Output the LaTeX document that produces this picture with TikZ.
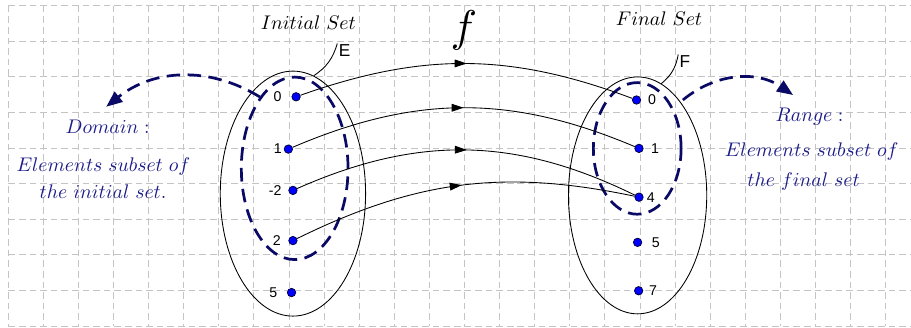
\documentclass[tikz,border=0pt]{standalone}
\usepackage{fontspec}
\newfontfamily\labfont{Liberation Sans}
\DeclareFontShape{OML}{cmm}{m}{it}{<->cmmi10}{}
\DeclareFontShape{OT1}{cmr}{m}{n}{<->cmr10}{}
\DeclareFontShape{OMS}{cmsy}{m}{n}{<->cmsy10}{}
\usetikzlibrary{arrows.meta,positioning,shapes.geometric,decorations.markings}
\definecolor{gridgray}{HTML}{C4C4C4}
\definecolor{deepnavy}{HTML}{0A0A66}
\definecolor{inknavy}{HTML}{1C1C8A}
\definecolor{ptblue}{HTML}{0000FF}
\definecolor{ptedge}{HTML}{00003C}
\tikzset{
  gridline/.style={draw=gridgray, line width=0.8pt, dash pattern=on 5.4pt off 3.2pt},
  setbox/.style={draw=black, line width=0.7pt, ellipse, inner sep=0pt},
  subset/.style={draw=deepnavy, line width=2.2pt, dash pattern=on 11pt off 6pt, ellipse, inner sep=0pt},
  dot/.style={circle, fill=ptblue, draw=ptedge, line width=0.6pt, inner sep=0pt, minimum size=2.4mm},
  num/.style={font=\labfont\fontsize{11.5}{13}\selectfont, inner sep=0pt},
  letter/.style={font=\labfont\fontsize{14}{16}\selectfont, inner sep=1pt},
  title/.style={font=\fontsize{16}{19}\selectfont, anchor=base},
  note/.style={title, text=inknavy},
}

\begin{document}
\begin{tikzpicture}[x=1cm, y=1.014cm,
  maparrow/.style={draw=black, line width=0.7pt,
    decoration={markings, mark=at position 0.5 with {\arrow{Triangle[length=3.4mm,width=2.2mm]}}},
    postaction={decorate}},
  tie/.style={draw=black, line width=0.7pt},
  pointer/.style={draw=deepnavy, line width=2.2pt, dash pattern=on 11pt off 6pt,
    -{Triangle[length=4.6mm,width=3.6mm]}}]
\useasboundingbox (-0.236,0.160) rectangle (25.72,-9.053);
\fill[white] (-0.236,0.160) rectangle (25.72,-9.053);
% grid
\foreach \k in {0,...,25} {\draw[gridline] (\k,0) -- (\k,-9);}
\foreach \k in {0,...,9} {\draw[gridline] (0,-\k) -- (25.72,-\k);}

% sets and subsets
\node[setbox, minimum width=4.14cm, minimum height=6.98cm] (setE) at (8.11,-5.28) {};
\node[subset, minimum width=3.04cm, minimum height=5.2cm] (dom) at (8.16,-4.57) {};
\node[setbox, minimum width=3.94cm, minimum height=6.75cm] (setF) at (17.93,-5.33) {};
\node[subset, minimum width=2.5cm, minimum height=3.75cm] (ran) at (17.92,-4.01) {};

\node[title] (tinit) at (8.55,-0.66) {$Initial\ Set$};
\node[title] (tfin) at (18.54,-0.57) {$Final\ Set$};
\node[font=\fontsize{36}{40}\selectfont, anchor=base] (fname) at (12.98,-1.00) {$f$};

\node[letter] (labE) at (9.58,-1.27) {E};
\node[letter] (labF) at (19.28,-1.58) {F};
\draw[tie] (labE.north west) to[bend left=20] (setE.80);
\draw[tie] (labF.north west) to[bend left=20] (setF.78);

% elements
\node[dot] (a1) at (8.20,-2.56) {};
\node[dot] (a2) at (7.98,-4.03) {};
\node[dot] (a3) at (8.11,-5.19) {};
\node[dot] (a4) at (8.11,-6.60) {};
\node[dot] (a5) at (8.07,-8.06) {};
\node[dot] (b1) at (17.90,-2.65) {};
\node[dot] (b2) at (17.97,-4.01) {};
\node[dot] (b3) at (17.97,-5.38) {};
\node[dot] (b4) at (17.93,-6.65) {};
\node[dot] (b5) at (17.96,-8.01) {};

\foreach \i/\j/\b in {1/1/20,2/2/23,3/3/25,4/3/19} {\draw[maparrow] (a\i) to[bend left=\b] (b\j);}

\node[num, left=2.8mm of a1] {0};
\node[num, left=0.5mm of a2] {1};
\node[num, left=1.9mm of a3] {-2};
\node[num, left=2.1mm of a4] {2};
\node[num, left=2.7mm of a5] {5};
\node[num, right=1.9mm of b1] {0};
\node[num, right=2.1mm of b2] {1};
\node[num, right=0.9mm of b3] {4};
\node[num, right=2.7mm of b4] {5};
\node[num, right=1.6mm of b5] {7};

% domain and range notes
\node[note] (dom1) at (2.83,-3.60) {$Domain:$};
\node[note] (dom2) at (2.71,-4.66) {$Elements\ subset\ of$};
\node[note] (dom3) at (2.70,-5.43) {$the\ initial\ set.$};
\node[note] (ran1) at (22.83,-3.26) {$Range:$};
\node[note] (ran2) at (22.89,-4.24) {$Elements\ subset\ of$};
\node[note] (ran3) at (22.66,-5.08) {$the\ final\ set$};

\coordinate (dtip) at (2.79,-2.84);
\coordinate (rbase) at (19.22,-2.65);
\coordinate (rtip) at (22.36,-2.51);
\draw[pointer] (dom.116) to[bend right=35] (dtip);
\draw[pointer] (rbase) to[bend left=37] (rtip);
\end{tikzpicture}
\end{document}
